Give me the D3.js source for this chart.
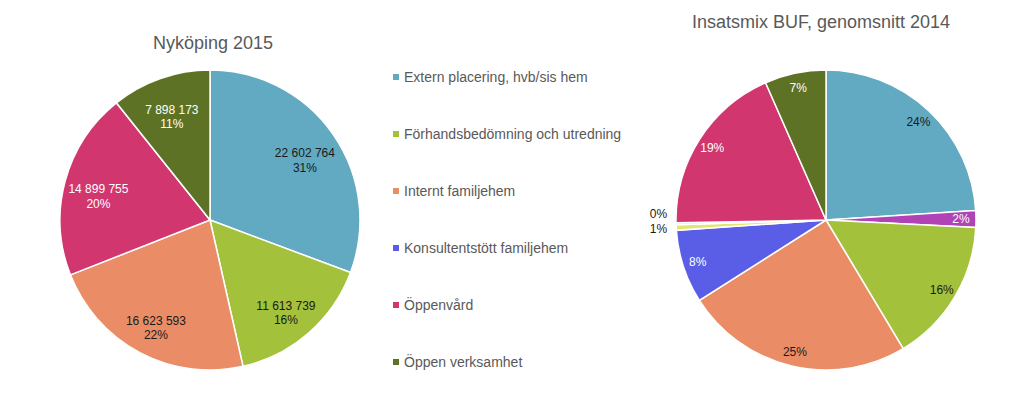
<!DOCTYPE html>
<html>
<head>
<meta charset="utf-8">
<script src="https://cdn.jsdelivr.net/npm/d3@7"></script>
<style>
  body { margin: 0; background: #fff; }
  svg { font-family: "Liberation Sans", Arial, sans-serif; }
</style>
</head>
<body>
<svg id="chart" width="1024" height="408"></svg>
<script>
// Nyköping 2015 (kronor)
const nkpCategories = ["Extern placering, hvb/sis hem", "Förhandsbedömning och utredning", "Internt familjehem", "Öppenvård", "Öppen verksamhet"];
const nkpValues = [22602764, 11613739, 16623593, 14899755, 7898173];
// procentetiketter som de står i originalet
const nkpPercents = ["31%", "16%", "22%", "20%", "11%"];

// Insatsmix BUF, genomsnitt 2014 (andel i procent, avläst)
const bufCategories = ["Extern placering, hvb/sis hem", "Övrigt 1", "Förhandsbedömning och utredning", "Internt familjehem", "Konsultentstött familjehem", "Övrigt 2", "Övrigt 3", "Öppenvård", "Öppen verksamhet"];
const bufValues = [24.0, 1.8, 15.6, 24.6, 7.9, 0.6, 0.2, 18.7, 6.6];

const legendItems = ["Extern placering, hvb/sis hem", "Förhandsbedömning och utredning", "Internt familjehem", "Konsultentstött familjehem", "Öppenvård", "Öppen verksamhet"];

const colors = {
    "Extern placering, hvb/sis hem": "#62a9c2",
    "Övrigt 1": "#b044b6",
    "Förhandsbedömning och utredning": "#a4c13b",
    "Internt familjehem": "#ea8d66",
    "Konsultentstött familjehem": "#5a5ee6",
    "Övrigt 2": "#e3e572",
    "Övrigt 3": "#c8c8c8",
    "Öppenvård": "#d2366f",
    "Öppen verksamhet": "#5e7226"
};
// mörka etiketter på ljusa sektorer
const darkLabel = ["Extern placering, hvb/sis hem", "Förhandsbedömning och utredning", "Internt familjehem"];

const svg = d3.select("#chart");
const r = 150;
const pct = d3.format(".0%");
const num = v => d3.format(",")(v).replace(/,/g, " ");

const pie = d3.pie().sort(null).value(d => d.value);
const arc = d3.arc().innerRadius(0).outerRadius(r);

// Vänster diagram
const left = svg.append("g").attr("transform", "translate(210,220)");
const nkpData = nkpCategories.map((c, i) => ({ cat: c, value: nkpValues[i], pct: nkpPercents[i] }));
const nkpArcs = pie(nkpData);
const leftLabel = d3.arc().innerRadius(r * 0.77).outerRadius(r * 0.77);

left.selectAll("path")
    .data(nkpArcs)
    .enter().append("path")
    .attr("d", arc)
    .attr("fill", d => colors[d.data.cat])
    .attr("stroke", "#fff")
    .attr("stroke-width", 1.5);

const lt = left.selectAll("text.lbl")
    .data(nkpArcs)
    .enter().append("text")
    .attr("class", "lbl")
    .attr("transform", d => `translate(${leftLabel.centroid(d)})`)
    .attr("text-anchor", "middle")
    .attr("font-size", 12)
    .attr("fill", d => darkLabel.includes(d.data.cat) ? "#1a1a1a" : "#fff");
lt.append("tspan").attr("x", 0).attr("dy", "0.25em").text(d => num(d.data.value));
lt.append("tspan").attr("x", 0).attr("dy", "1.2em").text(d => d.data.pct);

svg.append("text")
    .attr("x", 213).attr("y", 49)
    .attr("text-anchor", "middle")
    .attr("font-size", 18)
    .attr("fill", "#595959")
    .text("Nyköping 2015");

// Höger diagram
const right = svg.append("g").attr("transform", "translate(826,220)");
const bufData = bufCategories.map((c, i) => ({ cat: c, value: bufValues[i] }));
const bufTotal = d3.sum(bufValues);
const bufArcs = pie(bufData);
const rightLabel = d3.arc().innerRadius(r * 0.9).outerRadius(r * 0.9);
const outsideLabel = d3.arc().innerRadius(r * 1.06).outerRadius(r * 1.06);

right.selectAll("path")
    .data(bufArcs)
    .enter().append("path")
    .attr("d", arc)
    .attr("fill", d => colors[d.data.cat])
    .attr("stroke", "#fff")
    .attr("stroke-width", 1.5);

right.selectAll("text")
    .data(bufArcs)
    .enter().append("text")
    .each(function(d) {
        const small = d.value / bufTotal < 0.01;
        let p = small ? outsideLabel.centroid(d) : rightLabel.centroid(d);
        // de två minsta sektorerna får etiketter utanför, isärdragna
        if (small) p = [p[0], d.data.cat === "Övrigt 3" ? -6 : 9];
        d3.select(this)
            .attr("x", p[0]).attr("y", p[1])
            .attr("dy", "0.35em")
            .attr("text-anchor", small ? "end" : "middle")
            .attr("fill", small || darkLabel.includes(d.data.cat) ? "#1a1a1a" : "#fff");
    })
    .attr("font-size", 12)
    .text(d => pct(d.data.value / bufTotal));

svg.append("text")
    .attr("x", 821).attr("y", 28)
    .attr("text-anchor", "middle")
    .attr("font-size", 18)
    .attr("fill", "#595959")
    .text("Insatsmix BUF, genomsnitt 2014");

// Förklaring
const legendY = d3.scalePoint().domain(legendItems).range([77, 362]);
const legend = svg.append("g");
const li = legend.selectAll("g")
    .data(legendItems)
    .enter().append("g")
    .attr("transform", d => `translate(393,${legendY(d)})`);
li.append("rect")
    .attr("x", 0).attr("y", -3)
    .attr("width", 6).attr("height", 6)
    .attr("fill", d => colors[d]);
li.append("text")
    .attr("x", 11).attr("dy", "0.35em")
    .attr("font-size", 14)
    .attr("fill", "#595959")
    .text(d => d);
</script>
</body>
</html>
